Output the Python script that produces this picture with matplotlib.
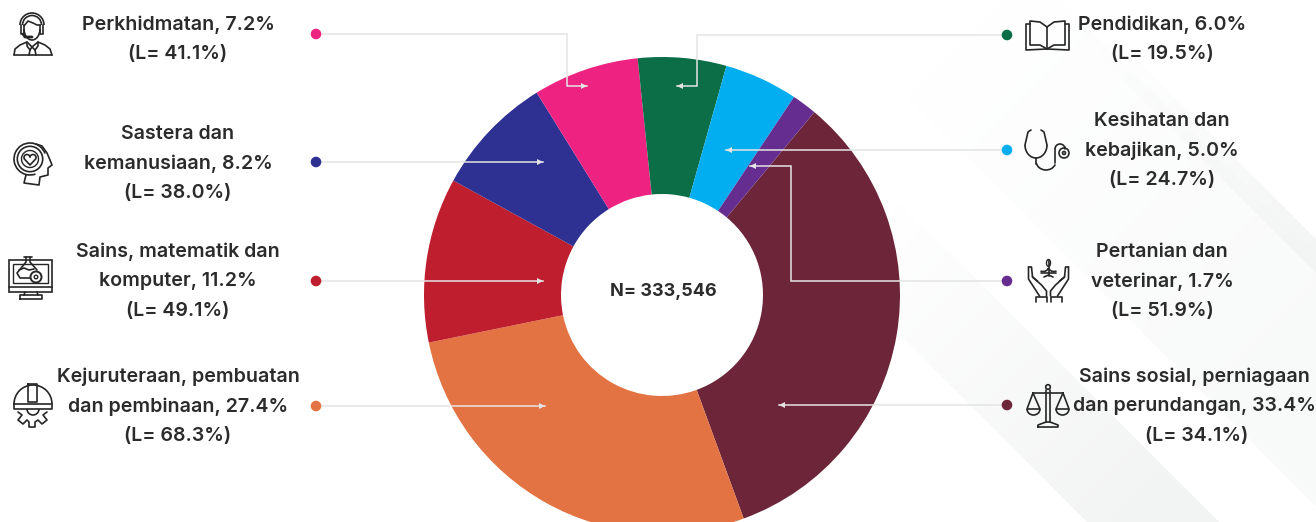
import matplotlib
matplotlib.use('Agg')
import matplotlib.pyplot as plt
import numpy as np
from matplotlib.colors import to_rgb
from matplotlib.patches import Circle, Arc, Polygon, Rectangle

plt.rcParams['font.family'] = ['Inter', 'Open Sans', 'DejaVu Sans']

# clockwise from the top of the sains sosial slice
categories = ['Sains sosial', 'Kejuruteraan', 'Sains', 'Sastera', 'Perkhidmatan',
              'Pendidikan', 'Kesihatan', 'Pertanian']
shares = [33.4, 27.4, 11.2, 8.2, 7.2, 6.0, 5.0, 1.7]
slice_colors = ['#6d2639', '#e37342', '#be1e2d', '#2e3192', '#ee2280',
                '#0c6e47', '#02aeef', '#652d90']
total_label = 'N= 333,546'

left_labels = [
    (['Perkhidmatan, 7.2%', '(L= 41.1%)'], 178, 25),
    (['Sastera dan', 'kemanusiaan, 8.2%', '(L= 38.0%)'], 178, 134),
    (['Sains, matematik dan', 'komputer, 11.2%', '(L= 49.1%)'], 178, 252),
    (['Kejuruteraan, pembuatan', 'dan pembinaan, 27.4%', '(L= 68.3%)'], 178, 377),
]
right_labels = [
    (['Pendidikan, 6.0%', '(L= 19.5%)'], 1162, 25),
    (['Kesihatan dan', 'kebajikan, 5.0%', '(L= 24.7%)'], 1162, 121),
    (['Pertanian dan', 'veterinar, 1.7%', '(L= 51.9%)'], 1162, 252),
    (['Sains sosial, perniagaan', 'dan perundangan, 33.4%', '(L= 34.1%)'], 1194, 377),
]

W, H = 1316, 522
TEXT = '#2b2b2b'
INK = '#262626'
LEAD = '#e4e4e4'

fig = plt.figure(figsize=(W / 100, H / 100), dpi=100, facecolor='white')

# page background, faint diagonal bands that fade towards the top left
bg = fig.add_axes([0, 0, 1, 1], zorder=0)
bg.set_xlim(0, W)
bg.set_ylim(H, 0)
bg.axis('off')
gx, gy = np.meshgrid(np.arange(W), np.arange(H))


def band(pts, color, t0, t1):
    img = np.ones((H, W, 4))
    img[..., :3] = to_rgb(color)
    img[..., 3] = np.clip((gx + gy - t0) / (t1 - t0), 0, 1)
    im = bg.imshow(img, extent=(0, W, H, 0), aspect='auto', interpolation='nearest')
    poly = Polygon(pts, closed=True, transform=bg.transData)
    im.set_clip_path(poly)


band([(810, 0), (1060, 0), (1316, 256), (1316, 506)], '#f8f9f9', 1000, 1700)
band([(1043, 0), (1077, 0), (1316, 239), (1316, 273)], '#f3f4f4', 1150, 1590)
band([(880, 183), (1219, 522), (1087, 522), (880, 315)], '#f2f3f3', 1100, 1670)
bg.set_xlim(0, W)
bg.set_ylim(H, 0)

# donut, centre (662, 295), radius 238 px
cx, cy, r = 662, 295, 238
ax_w = 2.5 * r
pie_ax = fig.add_axes([(cx - ax_w / 2) / W, 1 - (cy + ax_w / 2) / H, ax_w / W, ax_w / H], zorder=1)
pie_ax.pie(shares, colors=slice_colors, startangle=50.2, counterclock=False,
           radius=1, wedgeprops=dict(width=1 - 101 / 238, linewidth=0))
pie_ax.set_xlim(-1.25, 1.25)
pie_ax.set_ylim(-1.25, 1.25)

# overlay in pixel coordinates
ax = fig.add_axes([0, 0, 1, 1], zorder=2)
ax.set_xlim(0, W)
ax.set_ylim(H, 0)
ax.axis('off')
ax.patch.set_alpha(0)

ax.text(663, 292, total_label, ha='center', va='center', fontsize=13, fontweight='bold', color=TEXT)

for lines, x, y in left_labels + right_labels:
    for i, line in enumerate(lines):
        xx = x + 3 if line == '(L= 34.1%)' else x
        ax.text(xx, y + i * 29.4, line, ha='center', va='center', fontsize=14.1,
                fontweight='semibold', color=TEXT)

# leader lines: dot, path, arrow tip
leaders = [
    ('#ee2280', [(316, 34), (567, 34), (567, 86), (587, 86)]),
    ('#2e3192', [(316, 162), (543, 162)]),
    ('#be1e2d', [(316, 281), (543, 281)]),
    ('#e37342', [(316, 406), (545, 406)]),
    ('#0c6e47', [(1007, 35), (697, 35), (697, 86), (677, 86)]),
    ('#02aeef', [(1007, 150), (726, 150)]),
    ('#652d90', [(1007, 281), (791, 281), (791, 166), (750, 166)]),
    ('#6d2639', [(1007, 405), (779, 405)]),
]
for c, path in leaders:
    xs = [p[0] for p in path]
    ys = [p[1] for p in path]
    ax.plot(xs, ys, color=LEAD, lw=1.1, solid_joinstyle='miter')
    d = 1 if xs[-1] > xs[-2] else -1
    ax.add_patch(Polygon([(xs[-1], ys[-1]), (xs[-1] - d * 6, ys[-1] - 3), (xs[-1] - d * 6, ys[-1] + 3)],
                         closed=True, fc=LEAD, ec='none'))
    ax.add_patch(Circle(path[0], 5.3, fc=c, ec='none', zorder=4))


def ln(*pts, lw=1.2):
    ax.plot([p[0] for p in pts], [p[1] for p in pts], color=INK, lw=lw,
            solid_capstyle='round', solid_joinstyle='round')


def circ(x, y, rad, lw=1.2):
    ax.add_patch(Circle((x, y), rad, fc='none', ec=INK, lw=lw))


def arc(x, y, w, h, t1, t2, lw=1.2):
    ax.add_patch(Arc((x, y), w, h, theta1=t1, theta2=t2, ec=INK, lw=lw))


# headset person
arc(32, 25, 24, 24, 180, 360)
arc(32, 25, 19, 19, 180, 360)
ln((21, 25), (21, 34), (24, 34), (24, 25))
ln((43, 25), (43, 34), (40, 34), (40, 25))
ln((24, 26), (28, 21), (33, 23), (37, 25), (40, 25))
arc(32, 29, 16, 22, 0, 180)
ln((23, 34), (25, 37), (32, 37), lw=2)
ln((14, 55), (52, 55))
ln((14, 55), (15, 49), (20, 45), (27, 42), (32, 47), (38, 42), (45, 45), (50, 49), (52, 55))
ln((27, 42), (27, 46), (30, 50), (32, 47), (35, 50), (38, 46), (38, 42))
ln((30, 50), (29, 55))
ln((35, 50), (36, 55))

# head with heart
circ(30, 159, 8.5 + 4.2)
arc(30, 159, 32, 32, 70, 340)
arc(30, 159, 17, 17, 0, 360, lw=1.0)
arc(27, 157.5, 6, 6, 135, 360)
arc(33, 157.5, 6, 6, 180, 405)
ln((24.9, 159.6), (30, 165), (35.1, 159.6))
ln((36, 144), (42, 146), (47, 153), (50, 160), (52, 165), (48, 168), (48, 175), (40, 177), (39, 185), (24, 183), (26, 175))

# monitor with flask and gear
ax.add_patch(Rectangle((9, 260), 43, 32, fc='white', ec=INK, lw=1.2))
ax.add_patch(Rectangle((13, 264), 35, 19, fc='none', ec=INK, lw=1.0))
ln((9, 287), (52, 287))
ln((25, 292), (24, 295))
ln((37, 292), (38, 295))
ln((20, 299), (42, 299), (42, 295), (20, 295), (20, 299))
ln((24, 257), (32, 257))
ln((26, 257), (26, 262), (17, 273), (20, 278), (31, 278))
ln((30, 257), (30, 262), (37, 270))
ln((19, 270), (24, 268), (29, 270), (34, 269))
ax.add_patch(Circle((36, 277), 5.5, fc='white', ec=INK, lw=1.4, zorder=3))
ax.add_patch(Circle((36, 277), 1.8, fc='white', ec=INK, lw=1.0, zorder=3))

# helmet and gear
arc(33, 404, 38, 38, 180, 360)
ln((14, 404), (52, 404), (52, 409), (14, 409), (14, 404))
ln((28, 384), (37, 384), (37, 402), (28, 402), (28, 384))
arc(33, 409, 12, 12, 0, 180)
ln((18, 412), (22, 415), (18, 420), (23, 424), (27, 420), (29, 422), (29, 427), (35, 427),
   (35, 422), (38, 420), (42, 424), (47, 420), (43, 415), (47, 412))

# book
ln((1047, 27), (1047, 49))
ln((1047, 27), (1040, 22), (1030, 21), (1030, 45), (1040, 45), (1047, 49))
ln((1047, 27), (1054, 22), (1065, 21), (1065, 45), (1054, 45), (1047, 49))
ln((1030, 24), (1026, 24), (1026, 50), (1047, 49), (1069, 50), (1069, 24), (1065, 24))

# stethoscope
arc(1036, 145, 22, 26, 0, 180)
ln((1025, 145), (1028, 132), (1031, 130))
ln((1047, 145), (1044, 132), (1041, 130))
ln((1036, 158), (1036, 164))
arc(1046, 161, 20, 18, 20, 170)
ln((1055, 163), (1055, 149))
arc(1060, 149, 10, 10, 180, 360)
ln((1065, 149), (1065, 147))
circ(1064, 153, 5)
circ(1064, 153, 1.5)

# hands with plant
ln((1048.5, 260), (1048.5, 276))
arc(1048.5, 263, 4, 7, 0, 360, lw=1.0)
arc(1043, 268, 10, 7, 0, 130)
arc(1054, 268, 10, 7, 50, 180)
ln((1041, 273), (1056, 273))
ln((1044, 277), (1048.5, 275), (1053, 277))
for side in (-1, 1):
    mx = lambda d: 1048.5 + side * d
    ln((mx(20), 267), (mx(20), 279), (mx(9), 296))
    ln((mx(20), 267), (mx(17), 267), (mx(16), 277), (mx(7), 285), (mx(2), 291), (mx(2), 296))
    ln((mx(16), 277), (mx(11), 281))
    ln((mx(13), 302), (mx(13), 297), (mx(2), 297), (mx(2), 302))

# scales
circ(1048, 387, 2.3)
ln((1046, 390), (1046, 422))
ln((1050, 390), (1050, 422))
ln((1033, 393), (1063, 393))
ln((1033, 393), (1027, 409), (1040, 409), (1033, 393))
ln((1063, 393), (1056, 409), (1069, 409), (1063, 393))
arc(1033.5, 409, 13, 12, 0, 180)
arc(1062.5, 409, 13, 12, 0, 180)
ln((1038, 427), (1058, 427), (1058, 425), (1050, 422), (1046, 422), (1038, 425), (1038, 427))

fig.savefig('out.png', dpi=100, facecolor='white')
